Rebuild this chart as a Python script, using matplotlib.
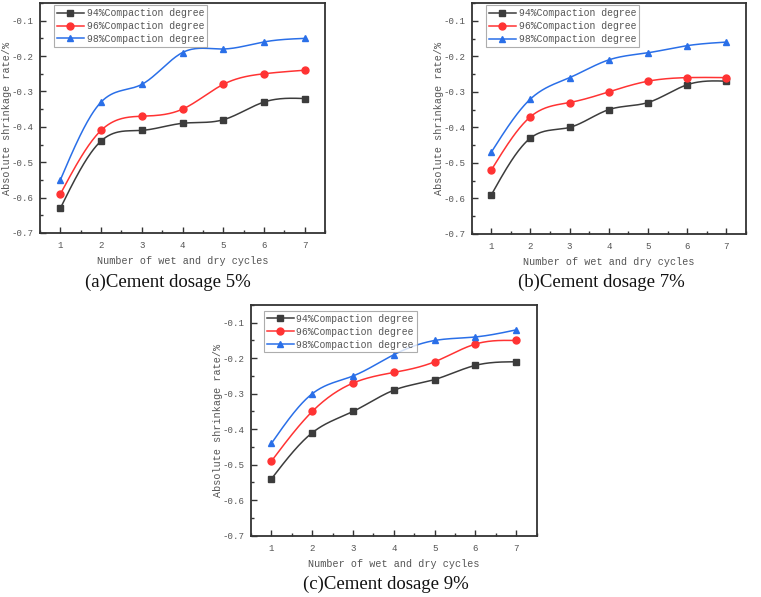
import numpy as np
import matplotlib
matplotlib.use("Agg")
import matplotlib.pyplot as plt
from matplotlib.ticker import MultipleLocator

cycles = [1, 2, 3, 4, 5, 6, 7]
series_names = ["94%Compaction degree", "96%Compaction degree", "98%Compaction degree"]

a_94 = [-0.63, -0.44, -0.41, -0.39, -0.38, -0.33, -0.32]
a_96 = [-0.59, -0.41, -0.37, -0.35, -0.28, -0.25, -0.24]
a_98 = [-0.55, -0.33, -0.28, -0.19, -0.18, -0.16, -0.15]

b_94 = [-0.59, -0.43, -0.40, -0.35, -0.33, -0.28, -0.27]
b_96 = [-0.52, -0.37, -0.33, -0.30, -0.27, -0.26, -0.26]
b_98 = [-0.47, -0.32, -0.26, -0.21, -0.19, -0.17, -0.16]

c_94 = [-0.54, -0.41, -0.35, -0.29, -0.26, -0.22, -0.21]
c_96 = [-0.49, -0.35, -0.27, -0.24, -0.21, -0.16, -0.15]
c_98 = [-0.44, -0.30, -0.25, -0.19, -0.15, -0.14, -0.12]

captions = ["(a)Cement dosage 5%", "(b)Cement dosage 7%", "(c)Cement dosage 9%"]
xlabel = "Number of wet and dry cycles"
ylabel = "Absolute shrinkage rate/%"
yticks = [-0.7, -0.6, -0.5, -0.4, -0.3, -0.2, -0.1]
ytick_labels = ["-0.7", "-0.6", "-0.5", "-0.4", "-0.3", "-0.2", "-0.1"]

colors = ["#3c3c3c", "#ff3333", "#2a6fe8"]
markers = ["s", "o", "^"]


def natural_spline(x, y, n=200):
    x = np.asarray(x, float)
    y = np.asarray(y, float)
    m = len(x)
    h = np.diff(x)
    A = np.zeros((m, m))
    r = np.zeros(m)
    A[0, 0] = 1
    A[-1, -1] = 1
    for i in range(1, m - 1):
        A[i, i - 1] = h[i - 1]
        A[i, i] = 2 * (h[i - 1] + h[i])
        A[i, i + 1] = h[i]
        r[i] = 3 * ((y[i + 1] - y[i]) / h[i] - (y[i] - y[i - 1]) / h[i - 1])
    c = np.linalg.solve(A, r)
    xs = np.linspace(x[0], x[-1], n)
    ys = np.empty_like(xs)
    for k, xv in enumerate(xs):
        i = min(np.searchsorted(x, xv, side="right") - 1, m - 2)
        i = max(i, 0)
        dx = xv - x[i]
        b = (y[i + 1] - y[i]) / h[i] - h[i] * (2 * c[i] + c[i + 1]) / 3
        d = (c[i + 1] - c[i]) / (3 * h[i])
        ys[k] = y[i] + b * dx + c[i] * dx ** 2 + d * dx ** 3
    return xs, ys


mono = "Liberation Mono"
serif = "Liberation Serif"
txt_col = "#555555"

fig = plt.figure(figsize=(7.61, 5.97), dpi=100)

panels = [
    ([a_94, a_96, a_98], [40, 325, 3, 233], (0.049, 0.991), (168, 282)),
    ([b_94, b_96, b_98], [471.7, 746, 3, 234], (0.052, 0.99), (601, 282)),
    ([c_94, c_96, c_98], [251, 536.7, 305, 535.7], (0.045, 0.975), (386, 584)),
]
W, H = 761, 597

for (data, (l, r, t, b), leg_anchor, cap_pos), cap in zip(panels, captions):
    ax = fig.add_axes([l / W, 1 - b / H, (r - l) / W, (b - t) / H])
    for vals, name, col, mk in zip(data, series_names, colors, markers):
        xs, ys = natural_spline(cycles, vals)
        ax.plot(xs, ys, color=col, lw=1.1)
        ax.plot(cycles, vals, linestyle="none", marker=mk, color=col, ms=5)
        ax.plot([], [], color=col, lw=1.1, marker=mk, ms=5, label=name)
    ax.set_xlim(0.5, 7.5)
    ax.set_ylim(-0.7, -0.05)
    ax.set_xticks(cycles)
    ax.set_yticks(yticks)
    ax.set_yticklabels(ytick_labels)
    ax.xaxis.set_minor_locator(MultipleLocator(0.5))
    ax.yaxis.set_minor_locator(MultipleLocator(0.05))
    ax.tick_params(which="both", direction="in", colors="#333333", labelcolor=txt_col,
                   labelsize=6.6, width=1.0)
    ax.tick_params(which="major", length=4)
    ax.tick_params(axis="y", which="major", pad=4.5)
    ax.tick_params(axis="x", which="major", pad=6)
    ax.tick_params(which="minor", length=2.5)
    for lab in ax.get_xticklabels() + ax.get_yticklabels():
        lab.set_family(mono)
    for sp in ax.spines.values():
        sp.set_linewidth(1.3)
        sp.set_color("#333333")
    ax.set_xlabel(xlabel, family=mono, fontsize=7.3, color=txt_col, labelpad=4)
    ax.set_ylabel(ylabel, family=mono, fontsize=7.3, color=txt_col)
    ax.yaxis.set_label_coords(-28 / (r - l), 0.5)
    leg = ax.legend(loc="upper left", bbox_to_anchor=leg_anchor, borderaxespad=0,
                    prop={"family": mono, "size": 7.0}, frameon=True, fancybox=False,
                    handlelength=2.8, handletextpad=0.25, labelspacing=0.3,
                    borderpad=0.3, labelcolor=txt_col)
    leg.get_frame().set_edgecolor("#999999")
    leg.get_frame().set_linewidth(0.8)
    fig.text(cap_pos[0] / W, 1 - cap_pos[1] / H, cap, family=serif, fontsize=13.5,
             ha="center", va="center", color="#111111")

fig.savefig("out.png", dpi=100)
